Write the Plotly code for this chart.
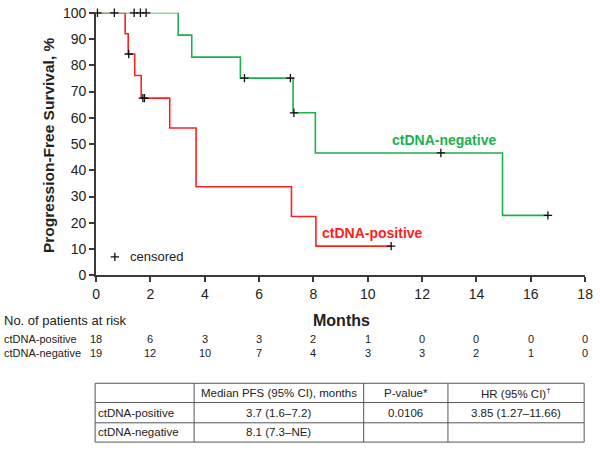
import plotly.graph_objects as go

W, H = 600, 453

# ---- data ----
pos_t = [0, 1.07, 1.18, 1.42, 1.66, 2.71, 3.68, 7.19, 8.09, 10.86]
pos_s = [100, 92.0, 84.3, 76.1, 67.5, 56.1, 33.7, 22.4, 11.1, 11.1]
pos_cens_t = [1.20, 1.72, 1.78, 10.86]
pos_cens_s = [84.3, 67.5, 67.5, 11.1]

neg_t = [0, 3.02, 3.52, 5.31, 7.25, 8.07, 14.96, 16.63]
neg_s = [100, 91.5, 83.1, 75.1, 61.9, 46.6, 22.8, 22.8]
neg_cens_t = [0.05, 0.67, 1.40, 1.63, 1.84, 5.46, 7.15, 7.28, 12.69, 16.63]
neg_cens_s = [100, 100, 100, 100, 100, 75.1, 75.1, 61.9, 46.6, 22.8]

x_ticks = [0, 2, 4, 6, 8, 10, 12, 14, 16, 18]
y_ticks = [0, 10, 20, 30, 40, 50, 60, 70, 80, 90, 100]
risk_times = x_ticks
risk_pos = [18, 6, 3, 3, 2, 1, 0, 0, 0, 0]
risk_neg = [19, 12, 10, 7, 4, 3, 3, 2, 1, 0]

table_header = ["", "Median PFS (95% CI), months", "P-value*", "HR (95% CI)<sup>†</sup>"]
table_rows = [
    ["ctDNA-positive", "3.7 (1.6–7.2)", "0.0106", "3.85 (1.27–11.66)"],
    ["ctDNA-negative", "8.1 (7.3–NE)", "", ""],
]

RED = "#FF2020"
GREEN = "#1DB04E"
AX = "#3a3a3a"
FONT = "Arial, Liberation Sans, sans-serif"


def px(x):
    return x / W


def py(y):
    return 1 - y / H


fig = go.Figure()
fig.add_trace(go.Scatter(x=pos_t, y=pos_s, mode="lines", line=dict(color=RED, width=1.6, shape="hv"),
                         cliponaxis=False, showlegend=False, hoverinfo="skip"))
fig.add_trace(go.Scatter(x=neg_t, y=neg_s, mode="lines", line=dict(color=GREEN, width=1.6, shape="hv"),
                         cliponaxis=False, showlegend=False, hoverinfo="skip"))
cens = dict(symbol="cross-thin", size=6, color="#111", line=dict(width=1.3, color="#111"))
fig.add_trace(go.Scatter(x=pos_cens_t, y=pos_cens_s, mode="markers", marker=cens,
                         cliponaxis=False, showlegend=False, hoverinfo="skip"))
fig.add_trace(go.Scatter(x=neg_cens_t, y=neg_cens_s, mode="markers", marker=cens,
                         cliponaxis=False, showlegend=False, hoverinfo="skip"))
# legend glyph
fig.add_trace(go.Scatter(x=[0.69], y=[7], mode="markers", marker=cens,
                         cliponaxis=False, showlegend=False, hoverinfo="skip"))

ann = []


def add(text, x, y, xref="paper", yref="paper", xanchor="center", font=None, **kw):
    ann.append(dict(x=x, y=y, xref=xref, yref=yref, text=text, showarrow=False, xanchor=xanchor,
                    yanchor="middle", font=font, **kw))


add("censored", 1.16, 7, "x", "y", "left", dict(size=13, color="#222", family=FONT))
add("<b>ctDNA-negative</b>", 12.8, 51.5, "x", "y", font=dict(size=14, color=GREEN, family=FONT))
add("<b>ctDNA-positive</b>", 10.17, 16.2, "x", "y", font=dict(size=14, color=RED, family=FONT))
add("<b>Progression-Free Survival, %</b>", px(46), py(142), font=dict(size=15.5, color="#222", family=FONT),
    textangle=-90)
add("<b>Months</b>", px(344), py(324), font=dict(size=16, color="#222", family=FONT))

# at-risk table
small = dict(size=11, color="#222", family=FONT)
add("No. of patients at risk", px(-2), py(324), xanchor="left", font=dict(size=13, color="#222", family=FONT))
add("ctDNA-positive", px(-2), py(343), xanchor="left", font=small)
add("ctDNA-negative", px(-2), py(358), xanchor="left", font=small)
for t, a, b in zip(risk_times, risk_pos, risk_neg):
    add(str(a), t, py(343), xref="x", font=small)
    add(str(b), t, py(358), xref="x", font=small)

# summary table
col_edges = [93, 194, 367, 453, 592]
row_edges = [389, 409, 430, 450]
shapes = []
tline = dict(color="#555", width=1)
shapes.append(dict(type="rect", xref="paper", yref="paper", x0=px(col_edges[0]), x1=px(col_edges[-1]),
                   y0=py(row_edges[0]), y1=py(row_edges[-1]), line=tline))
for c in col_edges[1:-1]:
    shapes.append(dict(type="line", xref="paper", yref="paper", x0=px(c), x1=px(c),
                       y0=py(row_edges[0]), y1=py(row_edges[-1]), line=tline))
for r in row_edges[1:-1]:
    shapes.append(dict(type="line", xref="paper", yref="paper", x0=px(col_edges[0]), x1=px(col_edges[-1]),
                       y0=py(r), y1=py(r), line=tline))

tfont = dict(size=11.5, color="#222", family=FONT)
all_rows = [table_header] + table_rows
for ri, row in enumerate(all_rows):
    yc = (row_edges[ri] + row_edges[ri + 1]) / 2
    for ci, txt in enumerate(row):
        if not txt:
            continue
        if ci == 0:
            add(txt, px(col_edges[0] + 1), py(yc), xanchor="left", font=tfont)
        else:
            xc = (col_edges[ci] + col_edges[ci + 1]) / 2
            add(txt, px(xc), py(yc), font=tfont)

fig.update_layout(
    width=W, height=H, margin=dict(l=0, r=0, t=0, b=0),
    paper_bgcolor="white", plot_bgcolor="white",
    font=dict(family=FONT, color="#222"),
    xaxis=dict(domain=[px(94), px(593)], range=[0, 18], tickvals=x_ticks, showgrid=False, zeroline=False,
               showline=True, linewidth=2, linecolor=AX, ticks="outside", ticklen=5, tickwidth=1.5,
               tickcolor=AX, tickfont=dict(size=14, color="#222"), fixedrange=True,
               ticklabeloverflow="allow"),
    yaxis=dict(domain=[py(277), py(5)], range=[0, 100], tickvals=y_ticks, showgrid=False, zeroline=False,
               showline=True, linewidth=2, linecolor=AX, ticks="outside", ticklen=5, tickwidth=1.5,
               tickcolor=AX, tickfont=dict(size=14, color="#222"), fixedrange=True,
               ticklabeloverflow="allow"),
    annotations=ann, shapes=shapes,
)

fig.write_html("out.html", config={"displayModeBar": False},
               post_script="document.body.style.margin='0';")
